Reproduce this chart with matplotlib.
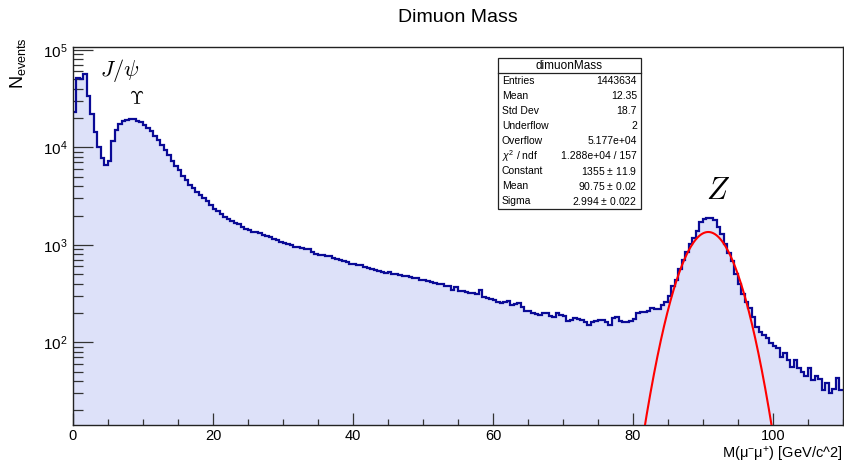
import numpy as np
import matplotlib
matplotlib.use("Agg")
import matplotlib.pyplot as plt
from matplotlib.patches import Rectangle
from matplotlib.lines import Line2D

plt.rcParams['font.family'] = ['Liberation Sans', 'DejaVu Sans']
plt.rcParams['mathtext.fontset'] = 'custom'
plt.rcParams['mathtext.rm'] = 'Liberation Sans'
plt.rcParams['mathtext.it'] = 'Liberation Sans:italic'
plt.rcParams['mathtext.bf'] = 'Liberation Sans:bold'

# ---------------- data ----------------
bin_width = 0.5
x_min, x_max = 0.0, 110.0
counts = [
    # 0-5 GeV
    2.3e4, 5.2e4, 5.0e4, 5.6e4, 3.4e4, 2.2e4, 1.45e4, 1.0e4, 7.8e3, 6.6e3,
    # 5-10
    7.2e3, 1.15e4, 1.5e4, 1.72e4, 1.85e4, 1.92e4, 1.95e4, 1.94e4, 1.88e4, 1.8e4,
    # 10-15
    1.7e4, 1.58e4, 1.47e4, 1.32e4, 1.19e4, 1.06e4, 9.5e3, 8.3e3, 7.3e3, 6.5e3,
    # 15-20
    5.8e3, 5.1e3, 4.6e3, 4.1e3, 3.8e3, 3.5e3, 3.25e3, 3.0e3, 2.85e3, 2.55e3,
    # 20-25
    2.35e3, 2.2e3, 2.08e3, 1.95e3, 1.85e3, 1.76e3, 1.68e3, 1.62e3, 1.52e3, 1.46e3,
    # 25-30
    1.42e3, 1.37e3, 1.36e3, 1.33e3, 1.25e3, 1.22e3, 1.2e3, 1.14e3, 1.12e3, 1.08e3,
    # 30-35
    1040, 1010, 990, 955, 960, 920, 905, 900, 850, 800,
    # 35-40
    790, 780, 775, 760, 735, 715, 700, 685, 665, 640,
    # 40-45
    630, 625, 620, 595, 585, 565, 550, 545, 530, 520,
    # 45-50
    530, 505, 500, 490, 475, 480, 470, 462, 455, 440,
    # 50-55
    435, 428, 420, 410, 400, 395, 382, 375, 346, 372,
    # 55-60
    340, 333, 330, 322, 318, 315, 346, 290, 284, 278,
    # 60-65
    270, 262, 256, 258, 263, 243, 248, 255, 230, 212,
    # 65-70
    208, 202, 196, 192, 200, 198, 188, 184, 202, 193,
    # 70-75
    185, 165, 168, 178, 174, 170, 162, 150, 162, 166,
    # 75-80
    170, 170, 160, 152, 178, 184, 165, 162, 160, 164,
    # 80-85
    172, 199, 205, 207, 212, 224, 222, 219, 243, 262,
    # 85-90
    300, 374, 440, 560, 703, 850, 1020, 1180, 1400, 1720,
    # 90-95
    1840, 1880, 1870, 1820, 1520, 1280, 1020, 830, 680, 500,
    # 95-100
    400, 310, 262, 225, 180, 145, 128, 120, 112, 98,
    # 100-105
    92, 88, 71, 78, 66, 56, 66, 55, 50, 45,
    # 105-110
    54, 41, 45, 42, 32.5, 38, 30, 33, 43, 32.5,
]

# Gaussian fit parameters (from stats box)
fit_const = 1355.0
fit_mean = 90.75
fit_sigma = 2.994
fit_range = (80.0, 100.0)

stats_title = "dimuonMass"
stats_names = ["Entries", "Mean", "Std Dev", "Underflow", "Overflow",
               r"$\chi^{2}$ / ndf", "Constant", "Mean", "Sigma"]
stats_values = ["1443634", "12.35", "18.7", "2", "5.177e+04",
                "1.288e+04 / 157", "1355 $\\pm$ 11.9", "90.75 $\\pm$ 0.02",
                "2.994 $\\pm$ 0.022"]

# ---------------- figure ----------------
W, H = 845, 462
fig = plt.figure(figsize=(W / 100, H / 100), dpi=100)

def fx(px):
    return px / W

def fy(py):
    return 1 - py / H

ax_l, ax_r, ax_t, ax_b = 73, 843, 47, 425
ax = fig.add_axes([fx(ax_l), fy(ax_b), (ax_r - ax_l) / W, (ax_b - ax_t) / H])

edges = x_min + bin_width * np.arange(len(counts) + 1)
vals = np.array(counts, dtype=float)

fill_col = '#dde1f9'
line_col = '#0a0a96'

ax.stairs(vals, edges, fill=True, color=fill_col, baseline=1.0, zorder=1)
ax.stairs(vals, edges, color=line_col, lw=1.6, baseline=None, zorder=2)

xf = np.linspace(fit_range[0], fit_range[1], 500)
yf = fit_const * np.exp(-0.5 * ((xf - fit_mean) / fit_sigma) ** 2)
ax.plot(xf, yf, color='#ff0000', lw=1.5, zorder=3)

ax.set_yscale('log')
ax.set_xlim(x_min, x_max)
ax.set_ylim(14.2, 1.07e5)

ax.xaxis.set_major_locator(matplotlib.ticker.MultipleLocator(20))
ax.xaxis.set_minor_locator(matplotlib.ticker.MultipleLocator(5))
ax.tick_params(axis='both', which='both', direction='in', top=False, right=False,
               labelsize=10.5, width=0.9, color='#333333')
ax.tick_params(axis='x', which='major', length=8.6, pad=3)
ax.tick_params(axis='x', which='minor', length=4.3)
ax.tick_params(axis='y', which='major', length=14.4, pad=4, labelsize=11)
ax.tick_params(axis='y', which='minor', length=7.2)
ax.yaxis.set_minor_formatter(matplotlib.ticker.NullFormatter())
for s in ax.spines.values():
    s.set_linewidth(1.0)
    s.set_color('#222222')

# title and axis labels
fig.text(fx(458), fy(18), "Dimuon Mass", ha='center', va='center', fontsize=14)
fig.text(fx(18), fy(37), r"N$_{\mathrm{events}}$", rotation=90, ha='center', va='top',
         fontsize=13)
fig.text(fx(843), fy(454), r"M($\mathrm{\mu}^{-}\mathrm{\mu}^{+}$) [GeV/c^2]",
         ha='right', va='center', fontsize=10.5)

# physics labels
fig.text(fx(120), fy(71), r"$J/\psi$", ha='center', va='center', fontsize=16,
         math_fontfamily='cm')
fig.text(fx(137), fy(99), r"$\Upsilon$", ha='center', va='center', fontsize=13,
         math_fontfamily='cm')
fig.text(fx(718), fy(191), r"$Z$", ha='center', va='center', fontsize=22,
         math_fontfamily='cm')

# stats box
bx0, bx1, by0, by1 = 498, 641, 58, 209
fig.patches.append(Rectangle((fx(bx0), fy(by1)), (bx1 - bx0) / W, (by1 - by0) / H,
                             transform=fig.transFigure, facecolor='white',
                             edgecolor='#222222', lw=0.9, zorder=5))
nrows = len(stats_names) + 1
rh = (by1 - by0) / nrows
fig.lines.append(Line2D([fx(bx0), fx(bx1)], [fy(by0 + rh), fy(by0 + rh)],
                        transform=fig.transFigure, color='#222222', lw=0.9, zorder=6))
fig.text(fx((bx0 + bx1) / 2), fy(by0 + rh / 2), stats_title, ha='center',
         va='center', fontsize=8.5, zorder=7)
for i, (n, v) in enumerate(zip(stats_names, stats_values)):
    yc = by0 + rh * (i + 1.5)
    fig.text(fx(bx0 + 4), fy(yc), n, ha='left', va='center', fontsize=7.5, zorder=7)
    fig.text(fx(bx1 - 4), fy(yc), v, ha='right', va='center', fontsize=7.5, zorder=7)

fig.savefig("out.png", dpi=100)
